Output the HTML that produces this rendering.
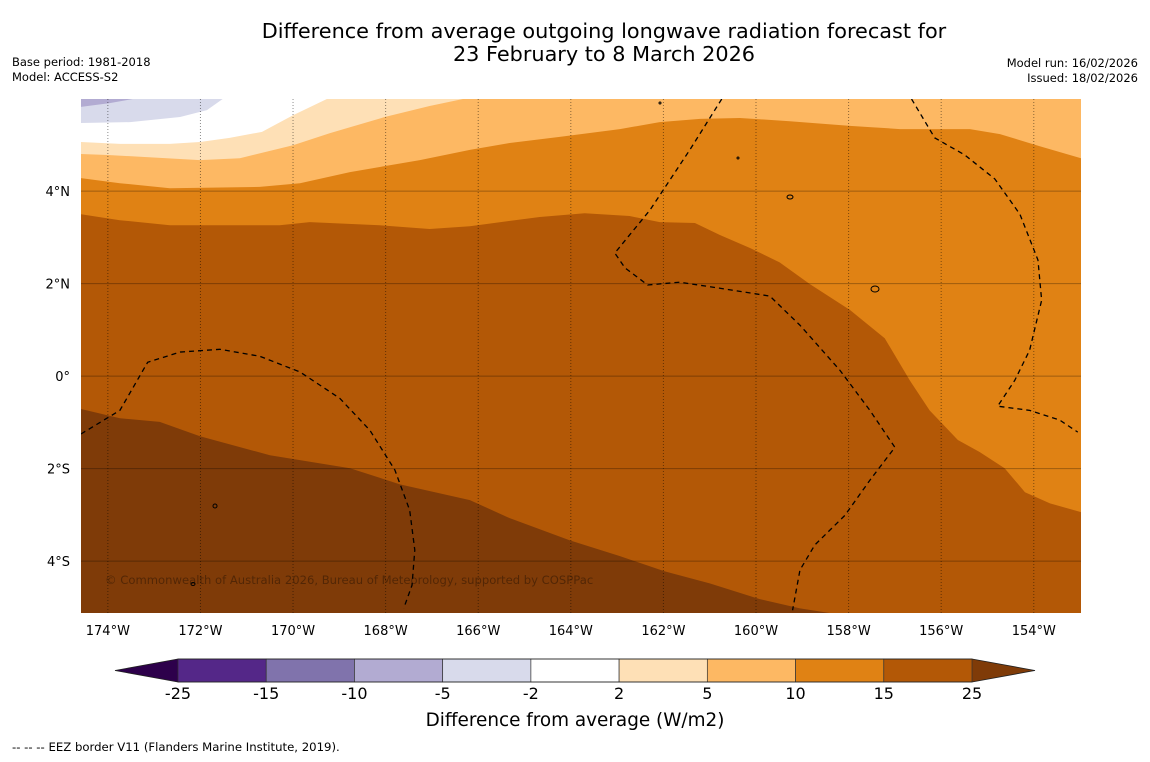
<!DOCTYPE html>
<html><head><meta charset="utf-8"><style>
body{margin:0;background:#fff;width:1150px;height:758px;overflow:hidden;font-family:"DejaVu Sans","Liberation Sans",sans-serif}
svg text{font-family:"DejaVu Sans","Liberation Sans",sans-serif}
</style></head><body>
<svg id="chart" width="1150" height="758" viewBox="0 0 1150 758" xmlns="http://www.w3.org/2000/svg">
<rect width="1150" height="758" fill="#fff"/>
<text x="604" y="38" font-size="20.8" text-anchor="middle">Difference from average outgoing longwave radiation forecast for</text>
<text x="604" y="61" font-size="20.8" text-anchor="middle">23 February to 8 March 2026</text>
<text x="12" y="66" font-size="11.5">Base period: 1981-2018</text>
<text x="12" y="81" font-size="11.5">Model: ACCESS-S2</text>
<text x="1138" y="67" font-size="11.5" text-anchor="end">Model run: 16/02/2026</text>
<text x="1138" y="82" font-size="11.5" text-anchor="end">Issued: 18/02/2026</text>
<g id="map"></g>
<g id="axes"></g>
<g id="cbar"></g>
<text x="575" y="726" font-size="18.4" text-anchor="middle">Difference from average (W/m2)</text>
<text x="12" y="751" font-size="11.7">--  --  -- EEZ border V11 (Flanders Marine Institute, 2019).</text>
</svg>
<script>
// extent
const lonMin=-174.58, lonMax=-152.98, latMin=-5.12, latMax=5.99;
// contour levels and colors
const levels=[-25,-15,-10,-5,-2,2,5,10,15,25];
const levelColors=["#542788","#8073ac","#b2abd2","#d8daeb","#ffffff","#fee0b6","#fdb863","#e08214","#b35806"];
const lowColor="#2d004b", highColor="#7f3b08";
// contour boundaries (lon, lat); region below each line has value >= level
const c_m5_lon=[-174.58,-173.96,-173.46];
const c_m5_lat=[5.82,5.90,5.99];
const c_m2_lon=[-174.58,-173.52,-172.44,-171.86,-171.52];
const c_m2_lat=[5.47,5.49,5.60,5.75,5.99];
const c_2_lon=[-174.58,-173.74,-172.66,-172.01,-171.37,-170.67,-170.00,-169.27];
const c_2_lat=[5.06,5.02,5.02,5.06,5.15,5.28,5.64,5.99];
const c_5_lon=[-174.58,-174.00,-172.01,-171.15,-170.00,-169.21,-168.02,-167.05,-166.33];
const c_5_lat=[4.80,4.78,4.67,4.71,4.99,5.25,5.60,5.84,5.99];
const c_10_lon=[-174.58,-173.74,-172.66,-170.72,-169.85,-168.77,-167.26,-166.18,-165.32,-164.24,-162.94,-162.08,-161.21,-160.35,-159.27,-157.97,-156.89,-155.38,-154.73,-153.87,-152.98];
const c_10_lat=[4.28,4.17,4.06,4.09,4.17,4.41,4.67,4.89,5.04,5.17,5.34,5.49,5.56,5.58,5.51,5.41,5.34,5.34,5.23,4.97,4.71];
const c_15_lon=[-174.58,-173.74,-172.66,-170.29,-169.64,-168.13,-167.05,-166.18,-164.67,-163.70,-162.73,-162.08,-161.32,-160.78,-160.13,-159.49,-158.84,-157.97,-157.22,-156.68,-156.25,-155.64,-155.17,-154.63,-154.19,-153.65,-152.98];
const c_15_lat=[3.50,3.37,3.26,3.26,3.33,3.26,3.18,3.24,3.44,3.52,3.46,3.33,3.31,3.05,2.77,2.46,1.99,1.43,0.82,-0.09,-0.74,-1.38,-1.64,-1.99,-2.51,-2.75,-2.94];
const c_25_lon=[-174.58,-173.74,-172.88,-172.01,-170.50,-168.77,-167.69,-166.18,-165.32,-164.02,-162.94,-161.97,-161.00,-159.92,-159.05,-158.41];
const c_25_lat=[-0.71,-0.91,-0.99,-1.30,-1.71,-1.99,-2.34,-2.68,-3.07,-3.55,-3.89,-4.22,-4.48,-4.82,-5.02,-5.12];
// EEZ borders
const eez1_lon=[-174.58,-173.74,-173.14,-172.44,-171.58,-170.72,-169.85,-168.99,-168.34,-167.80,-167.48,-167.37,-167.43,-167.61];
const eez1_lat=[-1.25,-0.74,0.30,0.52,0.58,0.43,0.09,-0.48,-1.17,-2.03,-2.90,-3.76,-4.52,-5.02];
const eez2_lon=[-160.74,-161.43,-162.29,-163.05,-162.83,-162.34,-161.65,-160.78,-159.70,-159.05,-158.19,-157.54,-157.00,-157.54,-158.08,-158.73,-159.05,-159.21];
const eez2_lat=[5.99,4.89,3.59,2.66,2.34,1.97,2.03,1.90,1.73,1.10,0.13,-0.74,-1.54,-2.25,-3.01,-3.65,-4.19,-5.06];
const eez3_lon=[-156.64,-156.14,-155.49,-154.84,-154.30,-153.91,-153.83,-154.09,-154.41,-154.78,-154.09,-153.44,-153.05];
const eez3_lat=[5.99,5.15,4.78,4.26,3.50,2.51,1.64,0.56,-0.09,-0.65,-0.74,-0.95,-1.21];
// ticks
const lonTicks=[-174,-172,-170,-168,-166,-164,-162,-160,-158,-156,-154];
const lonTickLabels=["174°W","172°W","170°W","168°W","166°W","164°W","162°W","160°W","158°W","156°W","154°W"];
const latTicks=[4,2,0,-2,-4];
const latTickLabels=["4°N","2°N","0°","2°S","4°S"];

const X0=81,X1=1081,Y0=99,Y1=613;
const xs=lon=>X0+(lon-lonMin)/(lonMax-lonMin)*(X1-X0);
const ys=lat=>Y0+(latMax-lat)/(latMax-latMin)*(Y1-Y0);
const NS="http://www.w3.org/2000/svg";
function mk(tag,attrs,parent){const e=document.createElementNS(NS,tag);for(const k in attrs)e.setAttribute(k,attrs[k]);parent.appendChild(e);return e;}
const map=document.getElementById('map');
const defs=mk('defs',{},map);
const cp=mk('clipPath',{id:'mclip'},defs);
mk('rect',{x:X0,y:Y0,width:X1-X0,height:Y1-Y0},cp);
const g=mk('g',{'clip-path':'url(#mclip)'},map);
const base=mk('rect',{x:X0,y:Y0,width:X1-X0,height:Y1-Y0,fill:levelColors[2]},g);


const fills=[[c_m5_lon,c_m5_lat,3,'fill-minus5-to-minus2'],[c_m2_lon,c_m2_lat,4,'fill-minus2-to-2'],[c_2_lon,c_2_lat,5,'fill-2-to-5'],[c_5_lon,c_5_lat,6,'fill-5-to-10'],[c_10_lon,c_10_lat,7,'fill-10-to-15'],[c_15_lon,c_15_lat,8,'fill-15-to-25'],[c_25_lon,c_25_lat,-1,'fill-above-25']];
fills.forEach(([lo,la,ci,name])=>{
  let pts=lo.map((v,i)=>[xs(v),ys(la[i])]);
  if(la[la.length-1]<=latMin+0.01){pts.push([X0-5,Y1+5]);}
  else if(la[la.length-1]>=latMax-0.01){pts.push([X1+5,Y0-5],[X1+5,Y1+5],[X0-5,Y1+5]);}
  else{pts.push([X1+5,Y1+5],[X0-5,Y1+5]);}
  pts.unshift([X0-5,pts[0][1]]);
  const p=mk('polygon',{points:pts.map(q=>q.join(',')).join(' '),fill:ci<0?highColor:levelColors[ci]},g);
  
  
});
// grid
lonTicks.forEach(l=>{const ln=mk('line',{x1:xs(l),x2:xs(l),y1:Y0,y2:Y1,stroke:'#000','stroke-opacity':0.45,'stroke-width':1,'stroke-dasharray':'1,2'},g);

});
latTicks.forEach(l=>{const ln=mk('line',{x1:X0,x2:X1,y1:ys(l),y2:ys(l),stroke:'#000','stroke-opacity':0.3,'stroke-width':1},g);

});
// EEZ
[[eez1_lon,eez1_lat],[eez2_lon,eez2_lat],[eez3_lon,eez3_lat]].forEach(([lo,la])=>{
  const pl=mk('polyline',{points:lo.map((v,i)=>xs(v)+','+ys(la[i])).join(' '),fill:'none',stroke:'#000','stroke-width':1.3,'stroke-dasharray':'5,4'},g);
  
  
});
// islands
[[790,197,3,2],[875,289,4,3],[215,506,2,2],[193,584,2,1.5],[738,158,1,1],[660,103,1,1]].forEach(a=>{const e=mk('ellipse',{cx:a[0],cy:a[1],rx:a[2],ry:a[3],fill:'none',stroke:'#000','stroke-width':1},g);

});
const cr=mk('text',{x:105,y:584,'font-size':11.6,fill:'#000','fill-opacity':0.35},g);
cr.textContent='© Commonwealth of Australia 2026, Bureau of Meteorology, supported by COSPPac';


// axes labels
const ax=document.getElementById('axes');
lonTicks.forEach((l,i)=>{const t=mk('text',{x:xs(l),y:635,'font-size':13,'text-anchor':'middle'},ax);t.textContent=lonTickLabels[i];

});
latTicks.forEach((l,i)=>{const t=mk('text',{x:70,y:ys(l)+5,'font-size':13,'text-anchor':'end'},ax);t.textContent=latTickLabels[i];

});
// colorbar
const cb=document.getElementById('cbar');
const cbX0=178,cbX1=972,cbY=659,cbH=23,w=(cbX1-cbX0)/levelColors.length;
const lt=mk('polygon',{points:`115,${cbY+cbH/2} ${cbX0},${cbY} ${cbX0},${cbY+cbH}`,fill:lowColor},cb);


const rt=mk('polygon',{points:`1035,${cbY+cbH/2} ${cbX1},${cbY} ${cbX1},${cbY+cbH}`,fill:highColor},cb);


levelColors.forEach((c,i)=>{const r=mk('rect',{x:cbX0+i*w,y:cbY,width:w,height:cbH,fill:c,stroke:'#333','stroke-width':0.7},cb);

});
mk('polygon',{points:`115,${cbY+cbH/2} ${cbX0},${cbY} ${cbX1},${cbY} 1035,${cbY+cbH/2} ${cbX1},${cbY+cbH} ${cbX0},${cbY+cbH}`,fill:'none',stroke:'#222','stroke-width':0.8},cb);
levels.forEach((v,i)=>{const t=mk('text',{x:cbX0+i*w,y:699,'font-size':16,'text-anchor':'middle'},cb);t.textContent=v;

});
</script>
</body></html>
